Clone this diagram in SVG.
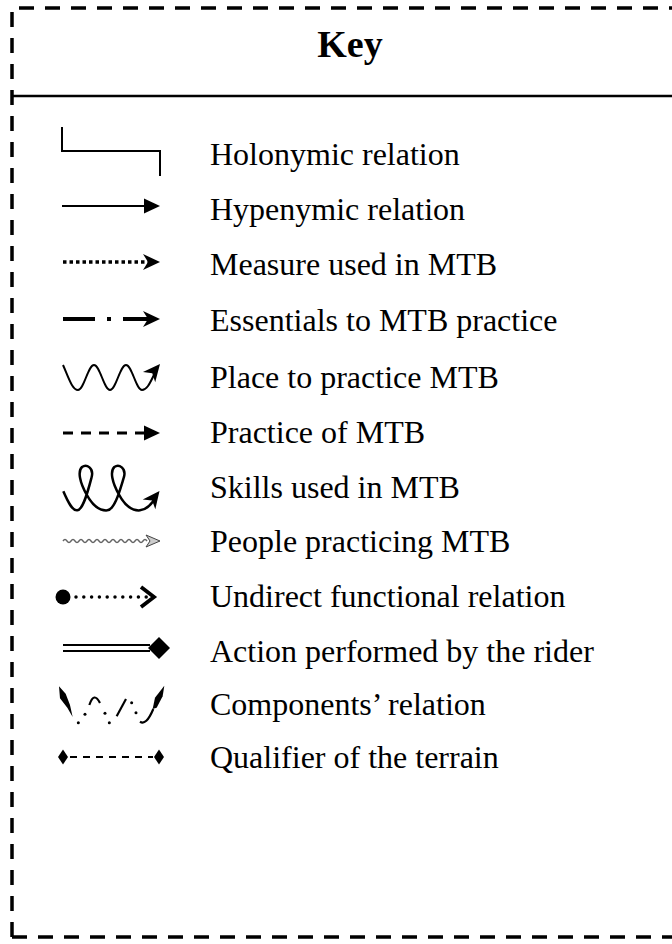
<svg xmlns="http://www.w3.org/2000/svg" width="672" height="944" viewBox="0 0 672 944">
<style>
  .lbl { font-family: "Liberation Serif", "Times New Roman", serif; font-size: 32px; fill: #000; }
  .title { font-family: "Liberation Serif", "Times New Roman", serif; font-size: 38px; font-weight: bold; fill: #000; }
  .ln { fill: none; stroke: #000; stroke-width: 2; }
  .fill { fill: #000; stroke: none; }
</style>
<defs>
  <path id="tri" d="M0,0 L-16,-7.5 L-16,7.5 Z"/>
  <path id="barb" d="M0,0 L-17,-8 L-12,0 L-17,8 Z"/>
</defs>
<rect width="672" height="944" fill="#fff"/>
<g id="frame">
  <path d="M12,937 L12,8 L680,8" fill="none" stroke="#000" stroke-width="3.5" stroke-dasharray="15 11"/>
  <path d="M12,937 L680,937" fill="none" stroke="#000" stroke-width="3.5" stroke-dasharray="15 11"/>
  <line x1="12" y1="96" x2="672" y2="96" stroke="#000" stroke-width="2.5"/>
  <text class="title" x="350" y="57" text-anchor="middle">Key</text>
</g>
<g id="connectors">
  <g id="sym-holonymic">
    <polyline class="ln" points="62,127 62,151 160,151 160,176"/>
  </g>
  <g id="sym-hypenymic">
    <line class="ln" x1="62" y1="206" x2="146" y2="206"/>
    <use href="#tri" class="fill" transform="translate(160,206)"/>
  </g>
  <g id="sym-measure">
    <line x1="63" y1="262" x2="148" y2="262" stroke="#000" stroke-width="3.5" stroke-dasharray="3.5 3"/>
    <use href="#barb" class="fill" transform="translate(160,262)"/>
  </g>
  <g id="sym-essentials">
    <line x1="63" y1="319" x2="95" y2="319" stroke="#000" stroke-width="4"/>
    <rect x="107" y="317" width="4" height="4" fill="#000"/>
    <line x1="123" y1="319" x2="150" y2="319" stroke="#000" stroke-width="4"/>
    <use href="#barb" class="fill" transform="translate(160,319)"/>
  </g>
  <g id="sym-place">
    <path class="ln" stroke-width="2.6" d="M63,365 C68,376 72,390 78,390 C84,390 88,365 94,365 C100,365 104,390 110,390 C116,390 120,365 126,365 C132,365 136,390 142,390 C148,390 151,380 156,371"/>
    <use href="#barb" class="fill" transform="translate(160,364) rotate(-50)"/>
  </g>
  <g id="sym-practice">
    <line x1="63" y1="433" x2="146" y2="433" stroke="#000" stroke-width="3" stroke-dasharray="10 8"/>
    <use href="#tri" class="fill" transform="translate(160,433)"/>
  </g>
  <g id="sym-skills">
    <path transform="translate(20,453) scale(0.3333)" fill="none" stroke="#000" stroke-width="7.5" d="M130,115 C145,150 158,174 172,172 C190,170 205,110 215,72 C222,45 200,32 186,42 C172,55 180,90 200,125 C218,158 238,174 262,172 C285,170 300,110 312,72 C319,45 297,32 283,42 C269,55 277,90 297,125 C315,158 335,174 360,172 C382,170 398,150 410,128"/>
    <use href="#barb" class="fill" transform="translate(159.5,491) rotate(-52)"/>
  </g>
  <g id="sym-people">
    <path fill="none" stroke="#666" stroke-width="1.4" d="M63,541 q2,-3 4,0 t4,0 t4,0 t4,0 t4,0 t4,0 t4,0 t4,0 t4,0 t4,0 t4,0 t4,0 t4,0 t4,0 t4,0 t4,0 t4,0 t4,0 t4,0 t4,0 t4,0"/>
    <path d="M146,535 L160,541 L146,547 L150,541 Z" fill="#ccc" stroke="#444" stroke-width="1"/>
  </g>
  <g id="sym-undirect">
    <circle cx="63" cy="597" r="7.5" fill="#000"/>
    <line x1="76" y1="597" x2="148" y2="597" stroke="#000" stroke-width="3.5" stroke-linecap="round" stroke-dasharray="0 7.8"/>
    <polyline points="141,587 154,597 141,607" fill="none" stroke="#000" stroke-width="3.8"/>
  </g>
  <g id="sym-action">
    <line x1="63" y1="645" x2="150" y2="645" stroke="#000" stroke-width="2.2"/>
    <line x1="63" y1="651" x2="150" y2="651" stroke="#000" stroke-width="2.2"/>
    <path d="M159,637 L170,648 L159,659 L148,648 Z" fill="#000"/>
  </g>
  <g id="sym-components" transform="translate(20,681) scale(0.3333)">
    <path d="M117,16 L137,38 L150,72 L158,108 L142,80 L120,52 Z" fill="#000"/>
    <circle cx="175" cy="125" r="4.5" fill="#000"/>
    <circle cx="195" cy="100" r="4.5" fill="#000"/>
    <path d="M208,72 Q222,30 240,66" fill="none" stroke="#000" stroke-width="6.5"/>
    <circle cx="255" cy="97" r="4.5" fill="#000"/>
    <circle cx="268" cy="125" r="4.5" fill="#000"/>
    <line x1="290" y1="106" x2="318" y2="54" stroke="#000" stroke-width="6.5"/>
    <circle cx="335" cy="65" r="4.5" fill="#000"/>
    <circle cx="348" cy="95" r="4.5" fill="#000"/>
    <path d="M360,122 Q378,136 400,84" fill="none" stroke="#000" stroke-width="6.5"/>
    <path d="M398,84 L405,50 L433,14 L428,46 L410,80 Z" fill="#000"/>
  </g>
  <g id="sym-qualifier">
    <line x1="70" y1="757" x2="153" y2="757" stroke="#000" stroke-width="2" stroke-dasharray="7 6"/>
    <path d="M63,749.5 L68,757 L63,764.5 L58,757 Z" fill="#000"/>
    <path d="M159,749.5 L164,757 L159,764.5 L154,757 Z" fill="#000"/>
  </g>
</g>
<g id="labels">
  <g id="n-holonymic"><text class="lbl" x="210" y="165">Holonymic relation</text></g>
  <g id="n-hypenymic"><text class="lbl" x="210" y="220">Hypenymic relation</text></g>
  <g id="n-measure"><text class="lbl" x="210" y="275">Measure used in MTB</text></g>
  <g id="n-essentials"><text class="lbl" x="210" y="331">Essentials to MTB practice</text></g>
  <g id="n-place"><text class="lbl" x="210" y="388">Place to practice MTB</text></g>
  <g id="n-practice"><text class="lbl" x="210" y="443">Practice of MTB</text></g>
  <g id="n-skills"><text class="lbl" x="210" y="498">Skills used in MTB</text></g>
  <g id="n-people"><text class="lbl" x="210" y="552">People practicing MTB</text></g>
  <g id="n-undirect"><text class="lbl" x="210" y="607">Undirect functional relation</text></g>
  <g id="n-action"><text class="lbl" x="210" y="662">Action performed by the rider</text></g>
  <g id="n-components"><text class="lbl" x="210" y="715">Components’ relation</text></g>
  <g id="n-qualifier"><text class="lbl" x="210" y="768">Qualifier of the terrain</text></g>
</g>
</svg>
